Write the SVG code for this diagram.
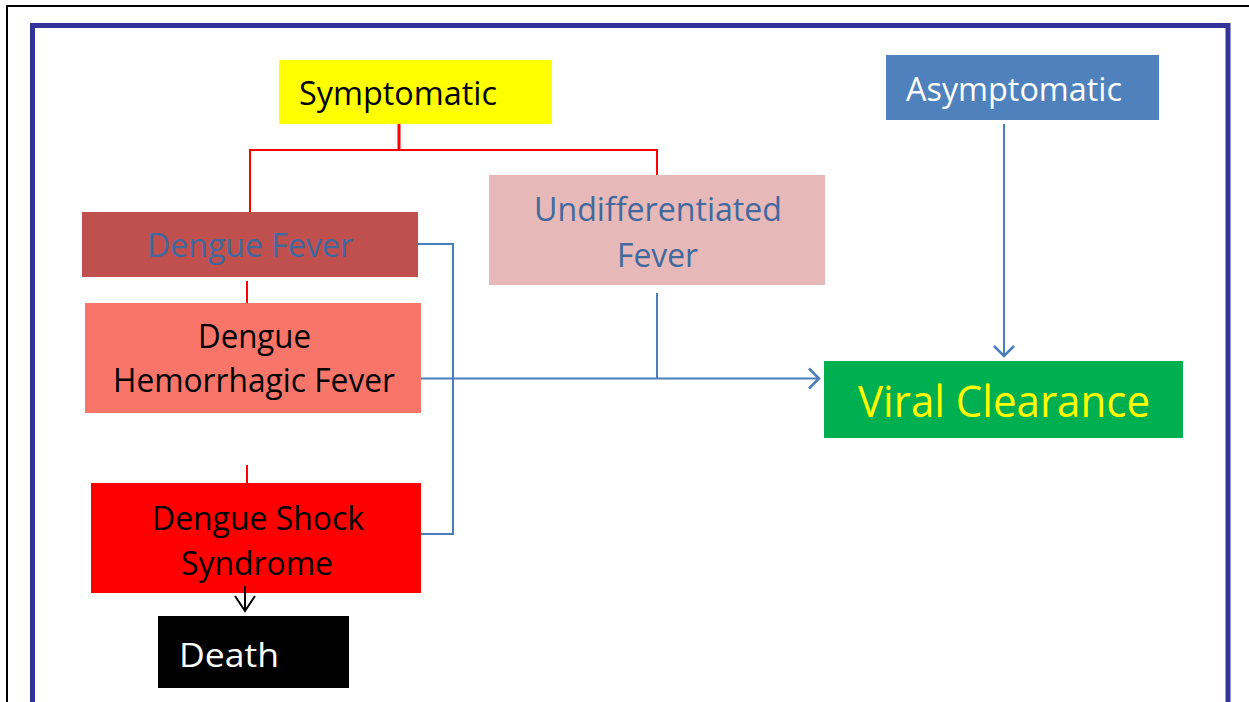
<svg xmlns="http://www.w3.org/2000/svg" width="1249" height="702" viewBox="0 0 1249 702">
<style>
text{font-family:"Open Sans","Noto Sans","Liberation Sans",sans-serif;font-size:32px}
.red{stroke:#FF0000;fill:none}
.blue{stroke:#4A7EBB;stroke-width:2;fill:none}
</style>
<defs>
<marker id="ab" markerWidth="14" markerHeight="24" refX="11" refY="12" orient="auto" markerUnits="userSpaceOnUse"><path d="M1,2 L11,12 L1,22" fill="none" stroke="#4A7EBB" stroke-width="2.5"/></marker>
<marker id="ak" markerWidth="18" markerHeight="24" refX="16" refY="12" orient="auto" markerUnits="userSpaceOnUse"><path d="M1,2 L16,12 L1,22" fill="none" stroke="#000" stroke-width="2"/></marker>
</defs>
<rect width="1249" height="702" fill="#fff"/>
<path d="M7,702 V6 H1249" fill="none" stroke="#000" stroke-width="2"/>
<path d="M32.5,702 V25.5 H1228 V702" fill="none" stroke="#333399" stroke-width="5"/>
<g id="symptomatic"><rect x="279" y="60" width="273" height="64" fill="#FFFF00"/><text x="299" y="105" textLength="198" lengthAdjust="spacingAndGlyphs" fill="#000">Symptomatic</text></g>
<g id="asymptomatic"><rect x="886" y="55" width="273" height="65" fill="#4F81BD"/><text x="906" y="101" textLength="216" lengthAdjust="spacingAndGlyphs" fill="#fff">Asymptomatic</text></g>
<g id="dengue-fever"><rect x="82" y="212" width="336" height="65" fill="#C0504D"/><text x="147" y="257" textLength="206" lengthAdjust="spacingAndGlyphs" fill="#41699F">Dengue Fever</text></g>
<g id="undifferentiated"><rect x="489" y="175" width="336" height="110" fill="#E6B8B7"/><text x="534" y="221" textLength="248" lengthAdjust="spacingAndGlyphs" fill="#41699F">Undifferentiated</text><text x="617" y="267" textLength="81" lengthAdjust="spacingAndGlyphs" fill="#41699F">Fever</text></g>
<g id="dhf"><rect x="85" y="303" width="336" height="110" fill="#F8756A"/><text x="198" y="348" textLength="113" lengthAdjust="spacingAndGlyphs" fill="#000">Dengue</text><text x="113" y="392" textLength="282" lengthAdjust="spacingAndGlyphs" fill="#000">Hemorrhagic Fever</text></g>
<g id="dss"><rect x="91" y="483" width="330" height="110" fill="#FF0000"/><text x="152" y="530" textLength="212" lengthAdjust="spacingAndGlyphs" fill="#000">Dengue Shock</text><text x="181" y="575" textLength="152" lengthAdjust="spacingAndGlyphs" fill="#000">Syndrome</text></g>
<g id="death"><rect x="158" y="616" width="191" height="72" fill="#000"/><text x="179" y="667" textLength="100" lengthAdjust="spacingAndGlyphs" fill="#fff">Death</text></g>
<g id="viral-clearance"><rect x="824" y="361" width="359" height="77" fill="#00B050"/><text x="858" y="417" textLength="292" lengthAdjust="spacingAndGlyphs" fill="#FFFF00" style="font-size:43px">Viral Clearance</text></g>
<g id="connectors">
<line class="red" x1="399" y1="124" x2="399" y2="149" stroke-width="3"/>
<path class="red" d="M250,212 V150 H657 V175" stroke-width="2"/>
<line class="red" x1="247" y1="281" x2="247" y2="303" stroke-width="2"/>
<line class="red" x1="247" y1="465" x2="247" y2="483" stroke-width="2"/>
<path class="blue" d="M418,244 H453 V534 H421"/>
<line class="blue" x1="421" y1="378.5" x2="819" y2="378.5" marker-end="url(#ab)"/>
<line class="blue" x1="657" y1="293" x2="657" y2="378.5"/>
<line class="blue" x1="1004" y1="124" x2="1004" y2="356" marker-end="url(#ab)"/>
<line x1="245" y1="586" x2="245" y2="611" stroke="#000" stroke-width="2" marker-end="url(#ak)"/>
</g>
</svg>
